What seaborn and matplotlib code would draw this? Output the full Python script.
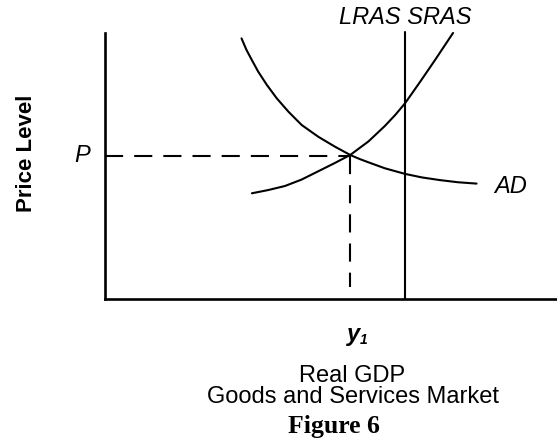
import matplotlib
matplotlib.use("Agg")
import matplotlib.pyplot as plt
import seaborn as sns
import pandas as pd

# curve points (x = real GDP, y = price level, 0-100 units)
ad_x = [30.2, 31.3, 32.5, 33.9, 35.8, 38.0, 40.6, 43.5, 47.2, 50.9, 54.3,
        56.4, 58.3, 61.9, 66.4, 70.1, 74.1, 78.1, 82.2]
ad_y = [96.9, 92.6, 88.8, 84.5, 79.6, 74.6, 69.6, 64.7, 60.3, 56.6, 53.5,
        52.0, 50.8, 48.6, 46.5, 45.2, 44.2, 43.4, 42.9]

sras_x = [32.5, 34.3, 36.1, 39.8, 43.5, 47.2, 50.9, 54.3, 58.3, 61.9, 64.2, 66.4, 69.7, 73.0, 77.0]
sras_y = [39.3, 39.9, 40.5, 42.0, 44.4, 47.5, 50.6, 53.6, 58.6, 64.3, 68.4, 72.8, 80.7, 88.8, 98.9]

lras_x = [66.4, 66.4]
lras_y = [0, 99.4]

eq_x = 54.3   # y1
eq_y = 53.3   # P
dash_bottom = 4.6

ad = pd.DataFrame({"gdp": ad_x, "price": ad_y})
sras = pd.DataFrame({"gdp": sras_x, "price": sras_y})
lras = pd.DataFrame({"gdp": lras_x, "price": lras_y})

sns.set_style("white")
plt.rcParams["font.family"] = ["Liberation Sans", "DejaVu Sans"]
plt.rcParams["text.color"] = "black"

W, H = 557, 443
fig = plt.figure(figsize=(W / 100, H / 100), dpi=100)
ax = fig.add_axes([105 / W, (H - 299) / H, 1 - 105 / W, (299 - 30) / H])
ax.set_xlim(0, 100)
ax.set_ylim(0, 100)

lw = 1.5
for df in [ad, sras, lras]:
    sns.lineplot(data=df, x="gdp", y="price", sort=False, estimator=None,
                 color="black", lw=lw, ax=ax)

# dashed guides to P and y1
ax.plot([0, eq_x], [eq_y, eq_y], color="black", lw=lw, dashes=(8.7, 5.3))
ax.plot([eq_x, eq_x], [eq_y, dash_bottom], color="black", lw=lw, dashes=(8.7, 5.3))

for s in ["top", "right"]:
    ax.spines[s].set_visible(False)
ax.spines["left"].set_bounds(0, 99)
for s in ["left", "bottom"]:
    ax.spines[s].set_linewidth(1.9)
    ax.spines[s].set_color("black")
ax.set_xticks([])
ax.set_yticks([])
ax.set_xlabel("")
ax.set_ylabel("")

ax.text(-5.1, eq_y, "P", fontsize=17, style="italic", ha="center", va="center", clip_on=False)
ax.text(89.8, 42.0, "AD", fontsize=17, style="italic", ha="center", va="center", clip_on=False)
ax.text(66.4, 104.6, "LRAS SRAS", fontsize=17, style="italic", ha="center", va="center", clip_on=False)
ax.text(eq_x + 0.6, -13.2, "y", fontsize=17, style="italic", weight="bold", ha="center", va="center", clip_on=False)
ax.text(eq_x + 2.9, -15.3, "1", fontsize=10, style="italic", weight="bold", ha="center", va="center", clip_on=False)

fig.text(27 / W, 1 - 153 / H, "Price Level", fontsize=16, weight="bold", rotation=90, ha="center", va="center")
fig.text(352 / W, 1 - 376 / H, "Real GDP", fontsize=17, ha="center", va="center")
fig.text(353 / W, 1 - 397 / H, "Goods and Services Market", fontsize=17, ha="center", va="center")
fig.text(334 / W, 1 - 426 / H, "Figure 6", fontsize=18.5, weight="bold", family="Liberation Serif", ha="center", va="center")

fig.savefig("out.png", dpi=100)
